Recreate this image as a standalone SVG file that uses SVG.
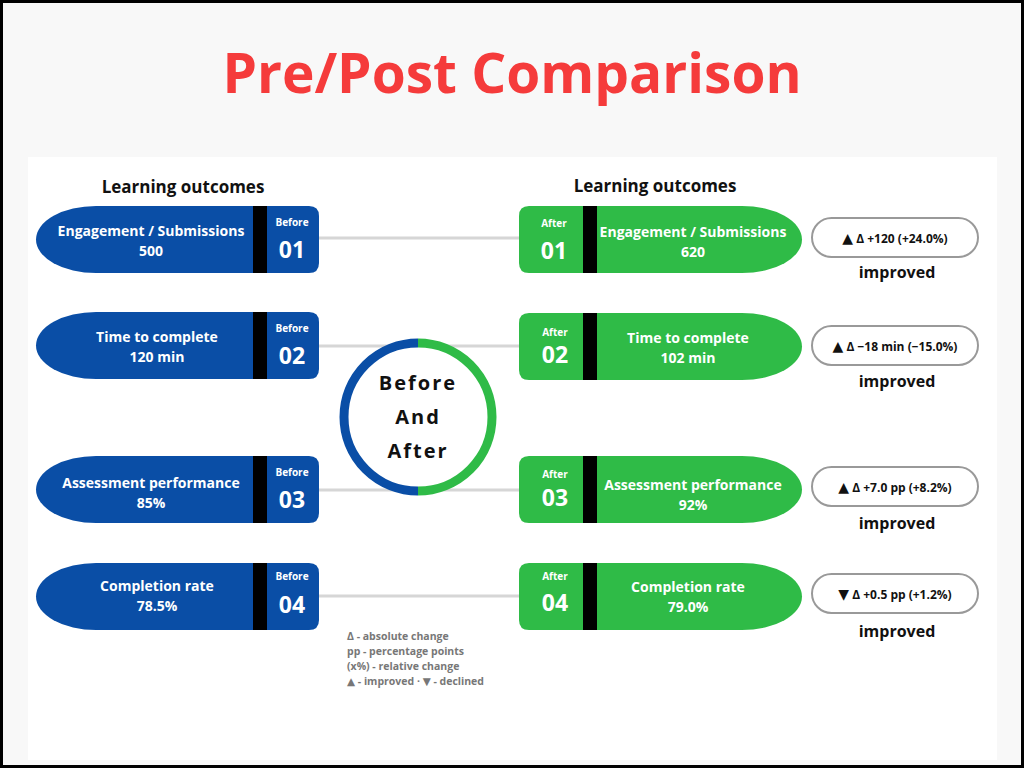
<svg xmlns="http://www.w3.org/2000/svg" width="1024" height="768" viewBox="0 0 1024 768">
<style>
.t{font-family:"Open Sans","Liberation Sans",sans-serif;font-weight:700}
.w{fill:#fff}
.lb{fill:#0a4ea6}
.gr{fill:#2fbb47}
.bar{fill:#000}
.pill{fill:#fff;stroke:#999;stroke-width:2}
.con{stroke:#d6d6d6;stroke-width:3;fill:none}
.tri{font-family:"DejaVu Sans",sans-serif;font-size:14px}
</style>
<defs>
<path id="L" d="M60,0 H273 Q283,0 283,10 V57 Q283,67 273,67 H60 A60,33.5 0 0 1 60,0 Z"/>
<path id="R" d="M10,0 H223 A60,33.5 0 0 1 223,67 H10 Q0,67 0,57 V10 Q0,0 10,0 Z"/>
</defs>
<rect x="1.5" y="1.5" width="1021" height="765" fill="#f8f8f8" stroke="#000" stroke-width="3"/>
<rect x="28" y="157" width="969" height="603" fill="#fff"/>
<text x="512" y="93" text-anchor="middle" class="t" font-size="55" fill="#f53b3b">Pre/Post Comparison</text>
<text x="183" y="193" text-anchor="middle" class="t" font-size="17" fill="#111">Learning outcomes</text>
<text x="655" y="192" text-anchor="middle" class="t" font-size="17" fill="#111">Learning outcomes</text>
<g id="connectors">
<line class="con" x1="319" y1="238" x2="519" y2="238"/>
<line class="con" x1="319" y1="346" x2="519" y2="346"/>
<line class="con" x1="319" y1="490" x2="519" y2="490"/>
<line class="con" x1="319" y1="596" x2="519" y2="596"/>
</g>
<g id="center">
<circle cx="418" cy="417" r="74" fill="#fff"/>
<path d="M418,343 A74,74 0 0 0 418,491" fill="none" stroke="#0a4ea6" stroke-width="9"/>
<path d="M418,343 A74,74 0 0 1 418,491" fill="none" stroke="#2fbb47" stroke-width="9"/>
<text x="418" y="390" text-anchor="middle" class="t" font-size="20" letter-spacing="2" fill="#111">Before</text>
<text x="418" y="424" text-anchor="middle" class="t" font-size="20" letter-spacing="2" fill="#111">And</text>
<text x="418" y="458" text-anchor="middle" class="t" font-size="20" letter-spacing="2" fill="#111">After</text>
</g>
<g id="before1" transform="translate(36,206)"><use href="#L" class="lb"/><rect class="bar" x="217" y="0" width="14" height="67"/>
<text x="115" y="30" text-anchor="middle" class="t w" font-size="14">Engagement / Submissions</text><text x="115" y="50" text-anchor="middle" class="t w" font-size="14">500</text>
<text x="256" y="20" text-anchor="middle" class="t w" font-size="10">Before</text><text x="256" y="52" text-anchor="middle" class="t w" font-size="23">01</text></g>
<g id="before2" transform="translate(36,312)"><use href="#L" class="lb"/><rect class="bar" x="217" y="0" width="14" height="67"/>
<text x="121" y="30" text-anchor="middle" class="t w" font-size="14">Time to complete</text><text x="121" y="50" text-anchor="middle" class="t w" font-size="14">120 min</text>
<text x="256" y="20" text-anchor="middle" class="t w" font-size="10">Before</text><text x="256" y="52" text-anchor="middle" class="t w" font-size="23">02</text></g>
<g id="before3" transform="translate(36,456)"><use href="#L" class="lb"/><rect class="bar" x="217" y="0" width="14" height="67"/>
<text x="115" y="32" text-anchor="middle" class="t w" font-size="14">Assessment performance</text><text x="115" y="52" text-anchor="middle" class="t w" font-size="14">85%</text>
<text x="256" y="20" text-anchor="middle" class="t w" font-size="10">Before</text><text x="256" y="52" text-anchor="middle" class="t w" font-size="23">03</text></g>
<g id="before4" transform="translate(36,563)"><use href="#L" class="lb"/><rect class="bar" x="217" y="0" width="14" height="67"/>
<text x="121" y="28" text-anchor="middle" class="t w" font-size="14">Completion rate</text><text x="121" y="48" text-anchor="middle" class="t w" font-size="14">78.5%</text>
<text x="256" y="17" text-anchor="middle" class="t w" font-size="10">Before</text><text x="256" y="50" text-anchor="middle" class="t w" font-size="23">04</text></g>
<g id="after1" transform="translate(519,206)"><use href="#R" class="gr"/><rect class="bar" x="64" y="0" width="14" height="67"/>
<text x="35" y="21" text-anchor="middle" class="t w" font-size="10">After</text><text x="35" y="53" text-anchor="middle" class="t w" font-size="23">01</text>
<text x="174" y="31" text-anchor="middle" class="t w" font-size="14">Engagement / Submissions</text><text x="174" y="51" text-anchor="middle" class="t w" font-size="14">620</text></g>
<g id="after2" transform="translate(519,313)"><use href="#R" class="gr"/><rect class="bar" x="64" y="0" width="14" height="67"/>
<text x="36" y="23" text-anchor="middle" class="t w" font-size="10">After</text><text x="36" y="50" text-anchor="middle" class="t w" font-size="23">02</text>
<text x="169" y="30" text-anchor="middle" class="t w" font-size="14">Time to complete</text><text x="169" y="50" text-anchor="middle" class="t w" font-size="14">102 min</text></g>
<g id="after3" transform="translate(519,456)"><use href="#R" class="gr"/><rect class="bar" x="64" y="0" width="14" height="67"/>
<text x="36" y="22" text-anchor="middle" class="t w" font-size="10">After</text><text x="36" y="50" text-anchor="middle" class="t w" font-size="23">03</text>
<text x="174" y="34" text-anchor="middle" class="t w" font-size="14">Assessment performance</text><text x="174" y="54" text-anchor="middle" class="t w" font-size="14">92%</text></g>
<g id="after4" transform="translate(519,563)"><use href="#R" class="gr"/><rect class="bar" x="64" y="0" width="14" height="67"/>
<text x="36" y="17" text-anchor="middle" class="t w" font-size="10">After</text><text x="36" y="48" text-anchor="middle" class="t w" font-size="23">04</text>
<text x="169" y="29" text-anchor="middle" class="t w" font-size="14">Completion rate</text><text x="169" y="49" text-anchor="middle" class="t w" font-size="14">79.0%</text></g>
<g id="res1"><rect class="pill" x="812" y="218" width="166" height="39" rx="19.5"/><text x="895" y="243" text-anchor="middle" class="t" font-size="12" fill="#111"><tspan class="tri">▲</tspan>   Δ +120 (+24.0%)</text><text x="897" y="278" text-anchor="middle" class="t" font-size="16" fill="#111">improved</text></g>
<g id="res2"><rect class="pill" x="812" y="326" width="166" height="39" rx="19.5"/><text x="895" y="351" text-anchor="middle" class="t" font-size="12" fill="#111"><tspan class="tri">▲</tspan> Δ −18 min (−15.0%)</text><text x="897" y="387" text-anchor="middle" class="t" font-size="16" fill="#111">improved</text></g>
<g id="res3"><rect class="pill" x="812" y="467" width="166" height="39" rx="19.5"/><text x="895" y="492" text-anchor="middle" class="t" font-size="12" fill="#111"><tspan class="tri">▲</tspan> Δ +7.0 pp (+8.2%)</text><text x="897" y="529" text-anchor="middle" class="t" font-size="16" fill="#111">improved</text></g>
<g id="res4"><rect class="pill" x="812" y="574" width="166" height="39" rx="19.5"/><text x="895" y="599" text-anchor="middle" class="t" font-size="12" fill="#111"><tspan class="tri">▼</tspan> Δ +0.5 pp (+1.2%)</text><text x="897" y="637" text-anchor="middle" class="t" font-size="16" fill="#111">improved</text></g>
<g id="legend" class="t" font-size="10.5" fill="#777">
<text x="347" y="640">Δ - absolute change</text>
<text x="347" y="655">pp - percentage points</text>
<text x="347" y="670">(x%) - relative change</text>
<text x="347" y="685"><tspan font-family="DejaVu Sans">▲</tspan> - improved · <tspan font-family="DejaVu Sans">▼</tspan> - declined</text>
</g>
</svg>
